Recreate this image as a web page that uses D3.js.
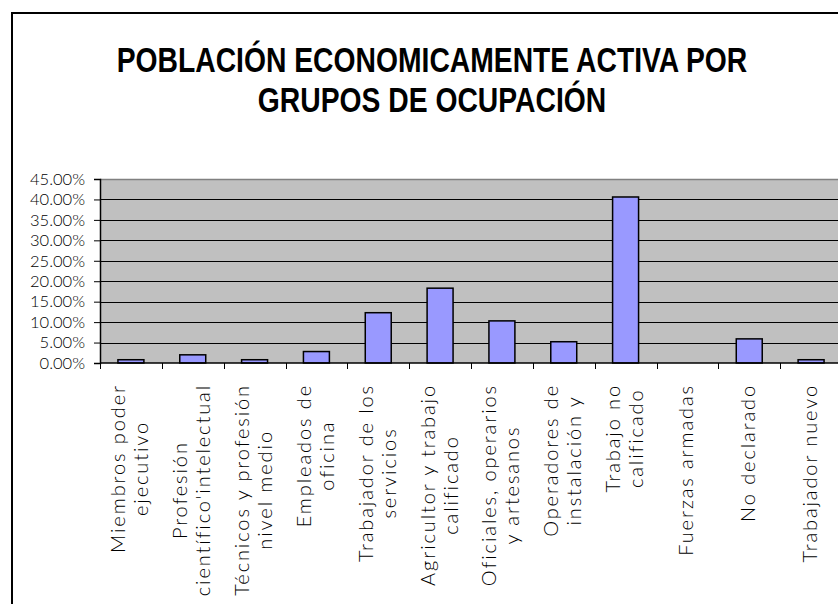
<!DOCTYPE html>
<html>
<head>
<meta charset="utf-8">
<script src="https://cdn.jsdelivr.net/npm/d3@7"></script>
<style>
  body { margin: 0; background: #fff; overflow: hidden; }
  svg { display: block; }
</style>
</head>
<body>
<script>
// data
var categories = [
  ['Miembros poder', 'ejecutivo'],
  ['Profesión', "científico'intelectual"],
  ['Técnicos y profesión', 'nivel medio'],
  ['Empleados de', 'oficina'],
  ['Trabajador de los', 'servicios'],
  ['Agricultor y trabajo', 'calificado'],
  ['Oficiales, operarios', 'y artesanos'],
  ['Operadores de', 'instalación y'],
  ['Trabajo no', 'calificado'],
  ['Fuerzas armadas'],
  ['No declarado'],
  ['Trabajador nuevo']
];
var values = [0.008, 0.020, 0.008, 0.028, 0.123, 0.183, 0.103, 0.052, 0.406, 0.0, 0.059, 0.008];
var yTicks = [0, 0.05, 0.10, 0.15, 0.20, 0.25, 0.30, 0.35, 0.40, 0.45];
var titleLines = ['POBLACIÓN ECONOMICAMENTE ACTIVA POR', 'GRUPOS DE OCUPACIÓN'];

var W = 838, H = 604;
var margin = { top: 179, left: 100 },
  width = 742,
  height = 184;

var svg = d3.select('body').append('svg')
  .attr('width', W)
  .attr('height', H);

// outer chart frame (runs off right and bottom)
svg.append('rect')
  .attr('x', 12).attr('y', 13)
  .attr('width', W + 20).attr('height', H + 20)
  .attr('fill', '#fff')
  .attr('stroke', '#000')
  .attr('stroke-width', 2);

// title is a condensed face in the original: squeeze it horizontally
var titleWidth = 631;
var tg = svg.append('g')
  .attr('transform', 'translate(432,0)');
var tt = tg.selectAll('.title')
  .data(titleLines)
  .enter()
  .append('text')
  .attr('class', 'title')
  .attr('x', 0)
  .attr('y', function (d, i) { return 72 + i * 40; })
  .attr('text-anchor', 'middle')
  .style('font-family', '"Liberation Sans", Arial, sans-serif')
  .style('font-weight', 'bold')
  .style('font-size', '36px')
  .text(function (d) { return d; });
var natural = tt.node().getComputedTextLength();
tg.attr('transform', 'translate(432,0) scale(' + (titleWidth / natural) + ',1)');

var g = svg.append('g')
  .attr('transform', 'translate(' + margin.left + ',' + margin.top + ')');

var x = d3.scaleBand()
  .domain(d3.range(categories.length))
  .range([0, width])
  .paddingInner(0.58)
  .paddingOuter(0.29);

var y = d3.scaleLinear()
  .domain([0, 0.45])
  .range([height, 0]);

g.append('rect')
  .attr('width', width)
  .attr('height', height)
  .attr('fill', '#c0c0c0');

g.selectAll('.grid')
  .data(yTicks.slice(1, -1))
  .enter()
  .append('line')
  .attr('x1', 0).attr('x2', width)
  .attr('y1', function (d) { return Math.round(y(d)) + 0.5; })
  .attr('y2', function (d) { return Math.round(y(d)) + 0.5; })
  .attr('stroke', '#000')
  .attr('stroke-width', 1);

g.append('line')
  .attr('x1', 0).attr('x2', width)
  .attr('y1', 0.5).attr('y2', 0.5)
  .attr('stroke', '#808080')
  .attr('stroke-width', 1.5);

g.selectAll('.bar')
  .data(values)
  .enter()
  .append('rect')
  .attr('class', 'bar')
  .attr('x', function (d, i) { return x(i); })
  .attr('width', x.bandwidth())
  .attr('y', function (d) { return y(d); })
  .attr('height', function (d) { return height - y(d); })
  .attr('fill', '#9999ff')
  .attr('stroke', '#000')
  .attr('stroke-width', function (d) { return d > 0 ? 1.5 : 0; });

// y axis
var yAxis = d3.axisLeft(y)
  .tickValues(yTicks)
  .tickSize(6)
  .tickPadding(9)
  .tickFormat(d3.format('.2%'));

var ya = g.append('g').call(yAxis);
ya.select('.domain').attr('stroke', '#000').attr('stroke-width', 1.5);
ya.selectAll('text')
  .style('font-family', 'Lato, "Open Sans", sans-serif')
  .style('font-weight', 300)
  .style('font-size', '16.5px')
  .style('fill', '#000');

// x axis: ticks between categories
var step = x.step();
var xa = g.append('g')
  .attr('transform', 'translate(0,' + height + ')');
xa.append('line')
  .attr('x1', 0).attr('x2', width)
  .attr('y1', 0).attr('y2', 0)
  .attr('stroke', '#000')
  .attr('stroke-width', 1.5);
xa.selectAll('.xtick')
  .data(d3.range(categories.length + 1))
  .enter()
  .append('line')
  .attr('x1', function (i) { return Math.round(i * step) + 0.5; })
  .attr('x2', function (i) { return Math.round(i * step) + 0.5; })
  .attr('y1', 0).attr('y2', 6)
  .attr('stroke', '#000');

// rotated category labels
var labelTop = 384 - margin.top - height;
var lineH = 23;
var lab = xa.selectAll('.xlab')
  .data(categories)
  .enter()
  .append('g')
  .attr('class', 'xlab')
  .attr('transform', function (d, i) {
    return 'translate(' + (x(i) + x.bandwidth() / 2) + ',' + labelTop + ') rotate(-90)';
  });

lab.each(function (lines) {
  var el = d3.select(this);
  var n = lines.length;
  var ts = el.selectAll('text')
    .data(lines)
    .enter()
    .append('text')
    .attr('y', function (d, j) { return (j - (n - 1) / 2) * lineH + 6; })
    .style('font-family', 'Lato, "Open Sans", sans-serif')
    .style('font-weight', 300)
    .style('font-size', '20px')
    .style('letter-spacing', '1.9px')
    .style('fill', '#000')
    .text(function (d) { return d; });
  var widths = [];
  ts.each(function () { widths.push(this.getComputedTextLength()); });
  var maxW = d3.max(widths);
  ts.attr('text-anchor', 'middle')
    .attr('x', -maxW / 2);
});
</script>
</body>
</html>
